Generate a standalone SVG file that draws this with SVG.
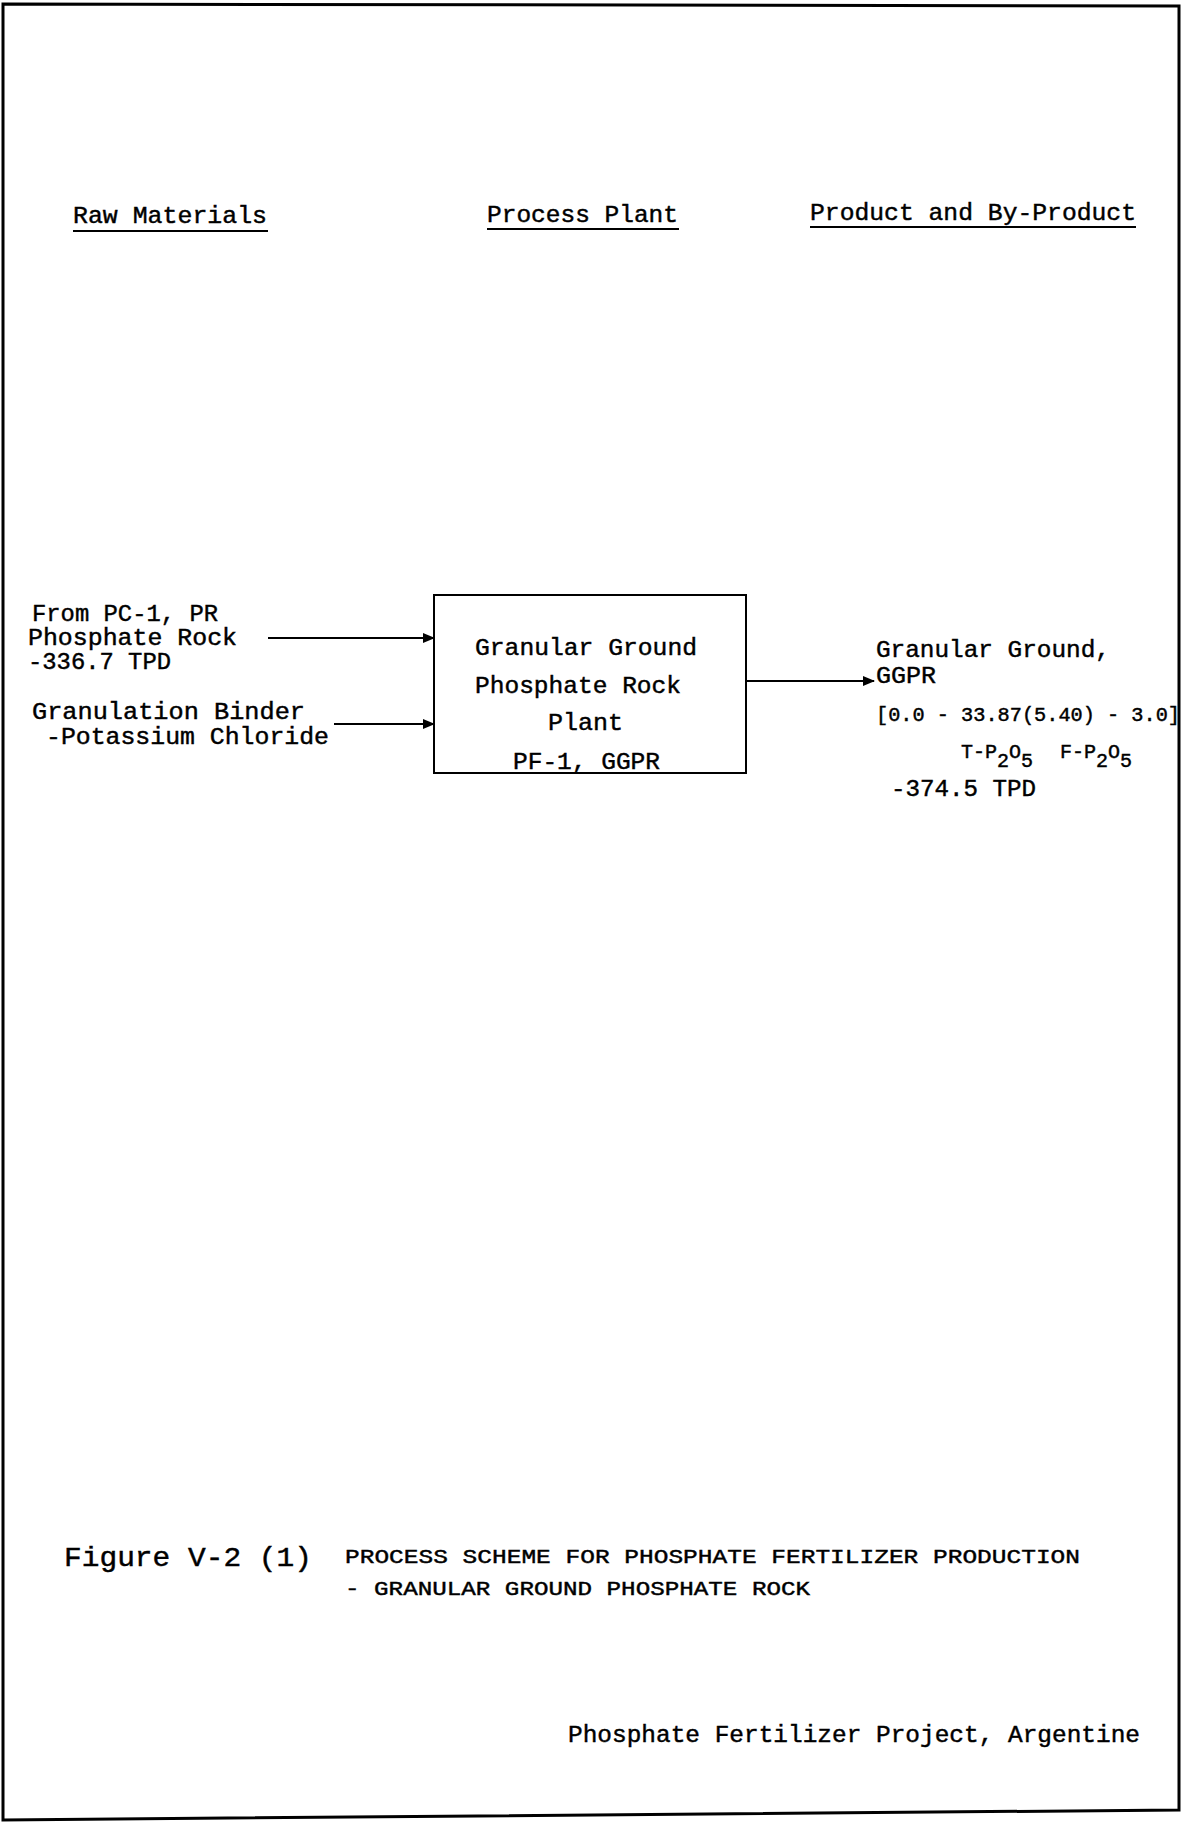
<svg xmlns="http://www.w3.org/2000/svg" width="1182" height="1822" viewBox="0 0 1182 1822">
<defs>
<style>
text{font-family:"Liberation Mono","DejaVu Sans Mono",monospace;fill:#000;stroke:#000;stroke-width:0.45}
.t{font-size:24.5px}
.s{font-size:20px}
.c{font-size:21px}
.ul{stroke:#000;stroke-width:2.2}
.ln{stroke:#000;stroke-width:2;fill:none}
</style>
<marker id="ah" markerWidth="12" markerHeight="10" refX="11" refY="5" orient="auto" markerUnits="userSpaceOnUse">
<path d="M0,0 L12,5 L0,10 Z" fill="#000"/>
</marker>
</defs>
<rect width="1182" height="1822" fill="#fff"/>
<path d="M3,4 L1179,6 L1179,1810 L3,1820 Z" fill="none" stroke="#000" stroke-width="3"/>

<g id="headers">
<text class="t" x="73" y="223" textLength="194" lengthAdjust="spacingAndGlyphs">Raw Materials</text>
<line class="ul" x1="73" y1="231" x2="268" y2="231"/>
<text class="t" x="487" y="222" textLength="191" lengthAdjust="spacingAndGlyphs">Process Plant</text>
<line class="ul" x1="487" y1="229" x2="679" y2="229"/>
<text class="t" x="810" y="220" textLength="326" lengthAdjust="spacingAndGlyphs">Product and By-Product</text>
<line class="ul" x1="810" y1="227" x2="1136" y2="227"/>
</g>

<g id="raw-phosphate-rock">
<text class="t" x="32" y="621" textLength="186" lengthAdjust="spacingAndGlyphs">From PC-1, PR</text>
<text class="t" x="28" y="645" textLength="209" lengthAdjust="spacingAndGlyphs">Phosphate Rock</text>
<text class="t" x="28" y="669" textLength="143" lengthAdjust="spacingAndGlyphs">-336.7 TPD</text>
</g>

<g id="raw-binder">
<text class="t" x="32" y="719" textLength="273" lengthAdjust="spacingAndGlyphs">Granulation Binder</text>
<text class="t" x="46" y="744" textLength="283" lengthAdjust="spacingAndGlyphs">-Potassium Chloride</text>
</g>

<g id="plant">
<rect x="434" y="595" width="312" height="178" fill="none" stroke="#000" stroke-width="2"/>
<text class="t" x="475" y="655" textLength="222" lengthAdjust="spacingAndGlyphs">Granular Ground</text>
<text class="t" x="475" y="693" textLength="206" lengthAdjust="spacingAndGlyphs">Phosphate Rock</text>
<text class="t" x="548" y="730" textLength="75" lengthAdjust="spacingAndGlyphs">Plant</text>
<text class="t" x="513" y="769" textLength="147" lengthAdjust="spacingAndGlyphs">PF-1, GGPR</text>
</g>

<g id="product">
<text class="t" x="876" y="657" textLength="234" lengthAdjust="spacingAndGlyphs">Granular Ground,</text>
<text class="t" x="876" y="683" textLength="60" lengthAdjust="spacingAndGlyphs">GGPR</text>
<text class="s" x="876" y="721" textLength="304" lengthAdjust="spacingAndGlyphs">[0.0 - 33.87(5.40) - 3.0]</text>
<text class="s" x="961" y="758">T-P<tspan dy="9">2</tspan><tspan dy="-9">O</tspan><tspan dy="9">5</tspan></text>
<text class="s" x="1060" y="758">F-P<tspan dy="9">2</tspan><tspan dy="-9">O</tspan><tspan dy="9">5</tspan></text>
<text class="t" x="891" y="796" textLength="145" lengthAdjust="spacingAndGlyphs">-374.5 TPD</text>
</g>

<g id="connectors">
<line class="ln" x1="268" y1="638" x2="434" y2="638" marker-end="url(#ah)"/>
<line class="ln" x1="334" y1="724" x2="434" y2="724" marker-end="url(#ah)"/>
<line class="ln" x1="746" y1="681" x2="874" y2="681" marker-end="url(#ah)"/>
</g>

<g id="caption">
<text x="64" y="1566" font-size="28" textLength="248" lengthAdjust="spacingAndGlyphs" stroke-width="0.2">Figure V-2 (1)</text>
<text class="c" x="345" y="1563" textLength="735" lengthAdjust="spacingAndGlyphs">PROCESS SCHEME FOR PHOSPHATE FERTILIZER PRODUCTION</text>
<text class="c" x="345" y="1595" textLength="465" lengthAdjust="spacingAndGlyphs">- GRANULAR GROUND PHOSPHATE ROCK</text>
</g>

<g id="footer">
<text class="t" x="568" y="1742" textLength="572" lengthAdjust="spacingAndGlyphs">Phosphate Fertilizer Project, Argentine</text>
</g>
</svg>
